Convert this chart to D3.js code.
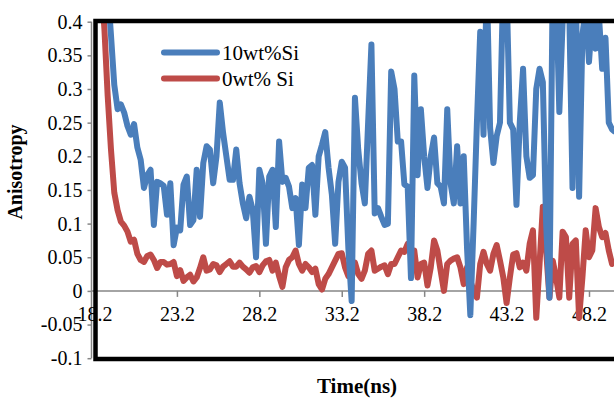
<!DOCTYPE html>
<html>
<head>
<meta charset="utf-8">
<script src="https://cdn.jsdelivr.net/npm/d3@7"></script>
<style>
  body { margin: 0; background: #fff; }
  svg { display: block; font-family: "Liberation Serif", "Times New Roman", serif; }
</style>
</head>
<body>
<div id="chart"></div>
<script>
// anisotropy readings, one every 0.2 ns starting at 18.2 ns
const startTime = 18.2;
const timeStep = 0.2;

const si10 = [
  0.73, 0.66, 0.59, 0.52, 0.45, 0.38, 0.306, 0.27, 0.277, 0.265,
  0.245, 0.232, 0.248, 0.213, 0.195, 0.153, 0.172, 0.18, 0.098, 0.162,
  0.16, 0.156, 0.113, 0.16, 0.068, 0.094, 0.09, 0.158, 0.17, 0.098,
  0.105, 0.18, 0.11, 0.19, 0.215, 0.21, 0.16, 0.2, 0.28, 0.235,
  0.2, 0.165, 0.165, 0.21, 0.16, 0.13, 0.108, 0.14, 0.12, 0.05,
  0.18, 0.16, 0.07, 0.17, 0.18, 0.095, 0.222, 0.162, 0.168, 0.155,
  0.123, 0.138, 0.068, 0.158, 0.123, 0.183, 0.187, 0.113, 0.2, 0.217,
  0.236, 0.183, 0.143, 0.07, 0.162, 0.192, 0.183, 0.064, -0.015, 0.287,
  0.21, 0.16, 0.13, 0.25, 0.366, 0.115, 0.123, 0.11, 0.098, 0.1,
  0.326, 0.3, 0.222, 0.222, 0.158, 0.155, 0.019, 0.32, 0.172, 0.27,
  0.2, 0.153, 0.2, 0.228, 0.16, 0.155, 0.13, 0.27, 0.16, 0.13,
  0.215, 0.13, 0.2, 0.064, -0.036, 0.1, 0.25, 0.385, 0.232, 0.46,
  0.242, 0.19, 0.23, 0.25, 0.46, 0.45, 0.25, 0.24, 0.128, 0.25,
  0.33, 0.2, 0.168, 0.172, 0.3, 0.33, 0.31, 0.1, -0.01, 0.46,
  0.45, 0.266, 0.4, 0.46, 0.42, 0.153, 0.45, 0.14, 0.38, 0.42,
  0.34, 0.41, 0.36, 0.41, 0.33, 0.376, 0.25, 0.24, 0.236
];

const si0 = [
  0.62, 0.54, 0.46, 0.39, 0.29, 0.21, 0.146, 0.12, 0.103, 0.097,
  0.088, 0.073, 0.076, 0.055, 0.046, 0.043, 0.052, 0.054, 0.046, 0.034,
  0.043, 0.043, 0.039, 0.04, 0.043, 0.022, 0.031, 0.015, 0.02, 0.024,
  0.014, 0.02, 0.034, 0.05, 0.03, 0.032, 0.04, 0.038, 0.028, 0.036,
  0.04, 0.044, 0.036, 0.036, 0.042, 0.036, 0.032, 0.027, 0.035, 0.037,
  0.028, 0.038, 0.044, 0.046, 0.03, 0.042, 0.022, 0.006, 0.035, 0.046,
  0.05, 0.06, 0.04, 0.03, 0.04, 0.035, 0.028, 0.033, 0.01, 0.002,
  0.018, 0.025, 0.035, 0.045, 0.055, 0.056, 0.035, 0.022, 0.03, 0.042,
  0.025, 0.018, 0.03, 0.055, 0.06, 0.03, 0.033, 0.036, 0.038, 0.025,
  0.04, 0.04, 0.05, 0.06, 0.058, 0.07, 0.06, 0.06, 0.02, 0.04,
  0.042, 0.008, 0.035, 0.075, 0.06, 0.03, 0.0, 0.04, 0.045, 0.048,
  0.05, 0.035, 0.01, 0.035, 0.015, 0.0, -0.01, 0.04, 0.058, 0.04,
  0.03, 0.055, 0.068, 0.045, 0.02, -0.018, 0.02, 0.054, 0.056, 0.035,
  0.042, 0.03, 0.07, 0.09, -0.04, 0.04, 0.125, 0.06, -0.01, 0.045,
  0.02, -0.01, 0.088, 0.08, -0.01, 0.07, 0.075, -0.04, 0.02, 0.09,
  0.05, 0.06, 0.123, 0.095, 0.08, 0.086, 0.06, 0.04, 0.045
];

const xTicks = [18.2, 23.2, 28.2, 33.2, 38.2, 43.2, 48.2];
const yTicks = [0.4, 0.35, 0.3, 0.25, 0.2, 0.15, 0.1, 0.05, 0, -0.05, -0.1];
const seriesNames = ["10wt%Si", "0wt% Si"];

const width = 614, height = 398;
const plot = { left: 95.5, top: 21, right: 640, bottom: 359 };
const blue = "#4a7ebb", red = "#be4b48", axisGrey = "#868686";

const times = si10.map((d, i) => +(startTime + i * timeStep).toFixed(1));

const x = d3.scaleLinear().domain([18.2, 48.2]).range([94.5, 589]);
const y = d3.scaleLinear().domain([-0.1, 0.4]).range([358.2, 21.7]);

const svg = d3.select("#chart").append("svg")
    .attr("width", width)
    .attr("height", height);

svg.append("clipPath").attr("id", "plotclip")
  .append("rect")
    .attr("x", plot.left + 1)
    .attr("y", plot.top + 1)
    .attr("width", plot.right - plot.left)
    .attr("height", plot.bottom - plot.top - 2);

// Y axis (grey, sits just left of the plot border)
const yAxis = svg.append("g")
    .attr("transform", "translate(91.5,0)")
    .call(d3.axisLeft(y).tickValues(yTicks).tickSize(4).tickPadding(5)
      .tickFormat(d => String(+d.toFixed(2))));
yAxis.select(".domain").attr("stroke", axisGrey).attr("stroke-width", 1.5)
    .attr("d", "M0," + y(0.4) + "V" + y(-0.1));
yAxis.selectAll(".tick line").attr("stroke", axisGrey).attr("stroke-width", 1.5);
yAxis.selectAll(".tick text").attr("font-size", 20).attr("fill", "#000")
    .attr("font-family", "Liberation Serif");

// X axis at y = 0
const xAxis = svg.append("g")
    .attr("transform", "translate(0," + y(0) + ")")
    .call(d3.axisBottom(x).tickValues(xTicks).tickSize(6).tickPadding(10)
      .tickFormat(d3.format(".1f")));
xAxis.select(".domain").attr("stroke", axisGrey).attr("stroke-width", 1.5)
    .attr("d", "M91.5,0H" + width);
xAxis.selectAll(".tick line").attr("stroke", axisGrey).attr("stroke-width", 1.5);
xAxis.selectAll(".tick text").attr("font-size", 20).attr("fill", "#000")
    .attr("font-family", "Liberation Serif");

// series
const line = d3.line()
    .x((d, i) => x(times[i]))
    .y(d => y(d));

const lines = svg.append("g").attr("clip-path", "url(#plotclip)");
lines.append("path")
    .datum(si0)
    .attr("fill", "none")
    .attr("stroke", red)
    .attr("stroke-width", 6)
    .attr("stroke-linejoin", "round")
    .attr("d", line);
lines.append("path")
    .datum(si10)
    .attr("fill", "none")
    .attr("stroke", blue)
    .attr("stroke-width", 6)
    .attr("stroke-linejoin", "round")
    .attr("d", line);

// thick plot border
svg.append("rect")
    .attr("x", plot.left)
    .attr("y", plot.top)
    .attr("width", plot.right - plot.left)
    .attr("height", plot.bottom - plot.top)
    .attr("fill", "none")
    .attr("stroke", "#000")
    .attr("stroke-width", 4.5);

// legend
const legend = svg.append("g");
[blue, red].forEach((c, i) => {
  const ly = 52.5 + i * 26;
  legend.append("line")
      .attr("x1", 164).attr("x2", 217)
      .attr("y1", ly).attr("y2", ly)
      .attr("stroke", c)
      .attr("stroke-width", 6)
      .attr("stroke-linecap", "round");
  legend.append("text")
      .attr("x", 222)
      .attr("y", ly + 7.5)
      .attr("font-size", 21)
      .text(seriesNames[i]);
});

// axis titles
svg.append("text")
    .attr("transform", "translate(22,172) rotate(-90)")
    .attr("text-anchor", "middle")
    .attr("font-size", 20)
    .attr("font-weight", "bold")
    .text("Anisotropy");

svg.append("text")
    .attr("x", 357)
    .attr("y", 393)
    .attr("text-anchor", "middle")
    .attr("font-size", 21)
    .attr("font-weight", "bold")
    .text("Time(ns)");
</script>
</body>
</html>
